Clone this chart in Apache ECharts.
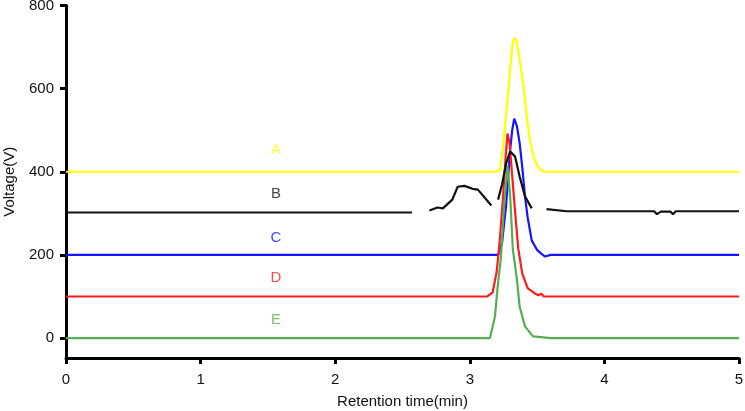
<!DOCTYPE html>
<html>
<head>
<meta charset="utf-8">
<script src="https://cdn.jsdelivr.net/npm/echarts@6/dist/echarts.min.js"></script>
<style>html,body{margin:0;padding:0;background:#fff}#c{width:745px;height:411px}</style>
</head>
<body>
<div id="c"></div>
<script>
// Retention time (min) / voltage (V) pairs
const seriesA = [[0,400],[3.17,400],[3.20,401],[3.225,405],[3.25,470],[3.27,540],[3.285,590],[3.30,650],[3.315,700],[3.33,722],[3.345,718],[3.36,690],[3.38,650],[3.40,605],[3.42,540],[3.445,480],[3.47,440],[3.50,415],[3.53,404],[3.56,400],[5,400]];
// trace B is broken into pieces (gaps in the recorded trace)
const seriesB1 = [[0,302],[2.57,302]];
const seriesB2 = [[2.70,307],[2.76,314],[2.80,312],[2.87,333],[2.91,364],[2.96,366],[3.02,359],[3.06,357],[3.11,338],[3.16,319]];
const seriesB3 = [[3.21,333],[3.24,370],[3.27,420],[3.30,449],[3.336,437],[3.37,389],[3.41,341],[3.46,312]];
const seriesB4 = [[3.57,310],[3.72,305],[4.37,305],[4.39,298],[4.42,304],[4.49,304],[4.51,298],[4.53,305],[5,305]];
const seriesC = [[0,200],[3.21,200],[3.24,230],[3.27,320],[3.30,453],[3.315,500],[3.33,528],[3.35,510],[3.37,470],[3.39,410],[3.41,340],[3.43,290],[3.46,235],[3.50,212],[3.53,203],[3.56,196],[3.60,200],[5,200]];
const seriesD = [[0,100],[3.13,100],[3.17,110],[3.20,160],[3.22,225],[3.245,330],[3.265,430],[3.28,492],[3.295,470],[3.315,390],[3.34,290],[3.36,215],[3.39,155],[3.43,120],[3.48,108],[3.51,103],[3.53,107],[3.55,100],[5,100]];
const seriesE = [[0,0],[3.15,0],[3.187,52],[3.21,133],[3.23,189],[3.255,320],[3.28,415],[3.30,340],[3.32,213],[3.35,141],[3.37,76],[3.41,28],[3.47,4],[3.60,0],[5,0]];
const seriesNames = ['A','B','C','D','E'];
const seriesColors = ['#ffff00','#111111','#1515ff','#ff1a1a','#55ad55'];
const labelX = 1.56;
const labelY = [453,348,242,145,44];
const xTicks = [0,1,2,3,4,5];
const yTicks = [0,200,400,600,800];

const traces = [
  {name: 'A', data: seriesA, color: seriesColors[0]},
  {name: 'C', data: seriesC, color: seriesColors[2]},
  {name: 'D', data: seriesD, color: seriesColors[3]},
  {name: 'E', data: seriesE, color: seriesColors[4]},
  {name: 'B', data: seriesB1, color: seriesColors[1]},
  {name: 'B', data: seriesB2, color: seriesColors[1]},
  {name: 'B', data: seriesB3, color: seriesColors[1]},
  {name: 'B', data: seriesB4, color: seriesColors[1]}
];
const chart = echarts.init(document.getElementById('c'));
const font = '"Liberation Sans", Arial, sans-serif';
const series = traces.map(t => ({
  type: 'line',
  name: t.name,
  data: t.data,
  showSymbol: false,
  symbol: 'none',
  lineStyle: {color: t.color, width: 2.2},
  itemStyle: {color: t.color},
  animation: false,
  z: 2
}));
series.push({
  type: 'scatter',
  symbolSize: 0,
  data: seriesNames.map((n, i) => ({value: [labelX, labelY[i]], name: n,
    label: {show: true, position: 'inside', formatter: n, color: seriesColors[i], fontSize: 15, fontFamily: font}})),
  animation: false,
  silent: true,
  z: 3
});
chart.setOption({
  backgroundColor: '#ffffff',
  animation: false,
  grid: {left: 66, right: 6, top: 5.5, bottom: 53, containLabel: false, outerBoundsMode: 'none'},
  xAxis: {
    type: 'value', min: 0, max: 5, interval: 1,
    name: 'Retention time(min)', nameLocation: 'middle', nameGap: 36,
    nameTextStyle: {fontSize: 15, color: '#111', fontFamily: font},
    axisLine: {show: true, onZero: false, lineStyle: {color: '#000', width: 3}},
    axisTick: {show: true, length: 6, lineStyle: {color: '#000', width: 3}},
    axisLabel: {fontSize: 15, color: '#111', margin: 14, fontFamily: font,
      customValues: xTicks},
    splitLine: {show: false}
  },
  yAxis: {
    type: 'value', min: -48, max: 800,
    name: 'Voltage(V)', nameLocation: 'middle', nameGap: 49,
    nameTextStyle: {fontSize: 15, color: '#111', fontFamily: font},
    axisLine: {show: true, onZero: false, lineStyle: {color: '#000', width: 3}},
    axisTick: {show: true, length: 6, lineStyle: {color: '#000', width: 3}, customValues: yTicks},
    axisLabel: {fontSize: 15, color: '#111', margin: 12, fontFamily: font, customValues: yTicks},
    splitLine: {show: false}
  },
  series: series
});
</script>
</body>
</html>
